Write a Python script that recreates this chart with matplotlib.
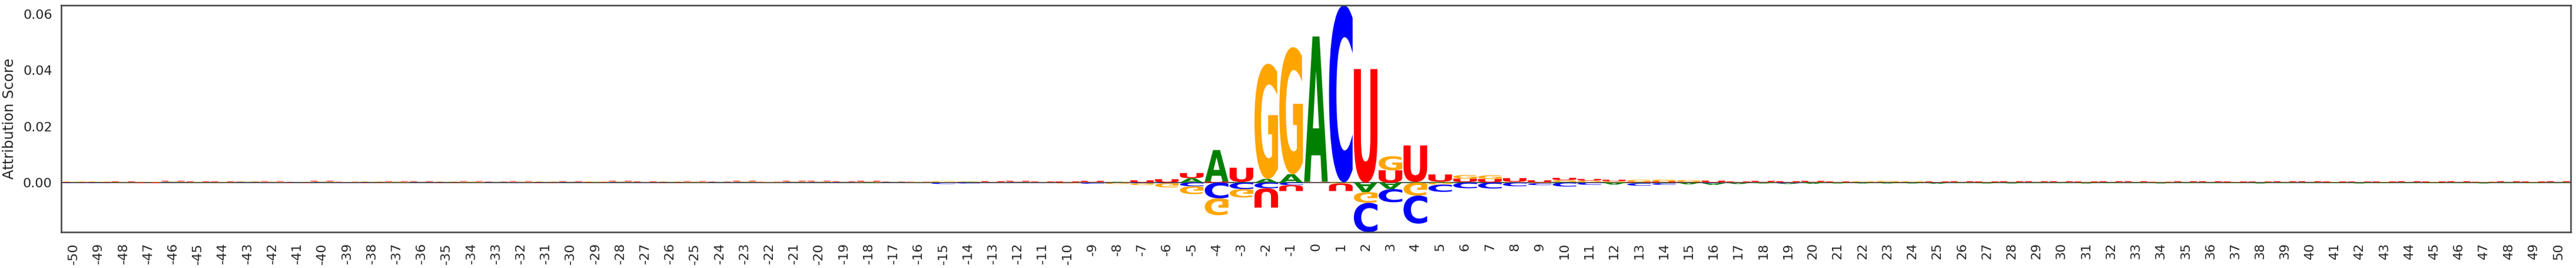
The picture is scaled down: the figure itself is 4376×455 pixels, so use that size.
"""Sequence logo of per-position attribution scores (positions -50..50)."""
import numpy as np
import matplotlib
matplotlib.use("Agg")
import matplotlib.pyplot as plt
from matplotlib.font_manager import FontProperties
from matplotlib.patches import PathPatch
from matplotlib.textpath import TextPath
from matplotlib.transforms import Affine2D

positions = list(range(-50, 51))

# attribution per nucleotide, one value per position (-50 .. 50)
score_a = [
    0.0001, 0.0001, 0.0001, 0.0000, 0.0001, 0.0001, 0.0001, 0.0001, 0.0001, 0.0001,
    0.0001, 0.0001, 0.0001, 0.0001, 0.0001, 0.0001, 0.0001, 0.0001, 0.0001, 0.0001,
    0.0001, 0.0001, 0.0001, 0.0001, 0.0001, 0.0001, 0.0001, 0.0001, 0.0001, 0.0001,
    0.0001, 0.0001, -0.0002, 0.0001, 0.0001, 0.0001, 0.0002, 0.0001, 0.0001, 0.0001,
    0.0001, 0.0001, 0.0002, 0.0001, 0.0001, 0.0016, 0.0112, 0.0002, 0.0013, 0.0030,
    0.0517, 0.0001, -0.0034, -0.0023, 0.0002, 0.0003, 0.0002, 0.0001, 0.0001, 0.0001,
    0.0002, 0.0001, -0.0007, -0.0002, -0.0002, -0.0006, -0.0006, -0.0004, -0.0003, -0.0003,
    -0.0004, -0.0003, -0.0003, -0.0003, -0.0003, -0.0003, -0.0002, -0.0003, -0.0003, -0.0002,
    -0.0002, -0.0003, -0.0002, -0.0002, -0.0003, -0.0002, -0.0002, -0.0002, -0.0003, -0.0002,
    -0.0002, -0.0002, -0.0003, -0.0002, -0.0002, -0.0002, -0.0002, -0.0003, -0.0002, -0.0002,
    -0.0002,
]
score_c = [
    -0.0001, -0.0001, 0.0000, 0.0001, 0.0001, 0.0000, 0.0000, 0.0001, -0.0001, 0.0001,
    0.0001, -0.0001, 0.0001, 0.0000, 0.0001, 0.0001, 0.0000, 0.0001, -0.0001, 0.0001,
    0.0001, 0.0000, 0.0001, -0.0001, 0.0001, 0.0000, 0.0001, 0.0001, 0.0000, 0.0001,
    0.0001, 0.0001, 0.0001, 0.0001, 0.0000, -0.0005, -0.0003, -0.0001, 0.0001, -0.0001,
    -0.0001, -0.0004, -0.0001, -0.0002, -0.0002, -0.0013, -0.0056, -0.0023, -0.0020, -0.0009,
    0.0001, 0.0630, -0.0104, -0.0047, -0.0100, -0.0026, -0.0020, -0.0021, -0.0013, -0.0007,
    -0.0014, -0.0008, 0.0001, -0.0009, -0.0006, 0.0001, -0.0002, -0.0001, 0.0001, -0.0002,
    0.0001, 0.0000, 0.0001, 0.0001, 0.0001, -0.0001, 0.0001, 0.0000, 0.0001, 0.0001,
    0.0001, 0.0000, 0.0001, 0.0001, 0.0000, 0.0001, 0.0001, 0.0000, 0.0001, 0.0001,
    0.0001, 0.0000, 0.0001, 0.0000, 0.0001, 0.0000, 0.0001, 0.0000, 0.0001, 0.0000,
    0.0001,
]
score_g = [
    0.0002, 0.0002, 0.0001, 0.0002, 0.0002, 0.0001, 0.0001, 0.0002, 0.0002, 0.0001,
    0.0002, 0.0001, 0.0002, 0.0002, 0.0001, 0.0002, 0.0002, 0.0001, 0.0002, 0.0002,
    0.0001, 0.0002, 0.0002, 0.0001, 0.0002, 0.0002, 0.0001, 0.0002, 0.0001, 0.0002,
    0.0002, 0.0001, 0.0002, 0.0001, 0.0001, 0.0004, 0.0002, 0.0001, 0.0001, 0.0001,
    -0.0002, 0.0001, -0.0004, -0.0007, -0.0015, -0.0028, -0.0060, -0.0030, 0.0410, 0.0452,
    0.0001, -0.0003, -0.0038, 0.0050, -0.0046, -0.0007, 0.0013, 0.0013, 0.0002, -0.0002,
    0.0007, 0.0006, 0.0004, 0.0007, 0.0007, 0.0006, 0.0001, 0.0001, 0.0001, 0.0001,
    0.0001, 0.0001, 0.0003, 0.0004, 0.0003, 0.0001, 0.0001, 0.0001, 0.0001, 0.0001,
    0.0001, 0.0001, 0.0001, 0.0001, 0.0001, 0.0001, 0.0001, 0.0001, 0.0001, 0.0001,
    0.0001, 0.0001, 0.0001, 0.0001, 0.0001, 0.0001, 0.0001, 0.0001, 0.0001, 0.0001,
    0.0001,
]
score_u = [
    0.0001, 0.0001, 0.0002, -0.0002, 0.0002, 0.0002, 0.0002, 0.0001, 0.0002, -0.0001,
    0.0002, 0.0001, -0.0001, 0.0002, 0.0002, -0.0001, 0.0002, 0.0001, 0.0002, -0.0001,
    0.0002, 0.0001, 0.0002, 0.0002, -0.0001, 0.0002, 0.0001, 0.0002, 0.0001, 0.0002,
    0.0002, 0.0002, 0.0003, 0.0001, 0.0001, 0.0000, 0.0001, 0.0003, 0.0003, 0.0002,
    0.0003, 0.0004, 0.0001, 0.0007, 0.0011, 0.0018, 0.0004, 0.0051, -0.0069, -0.0021,
    0.0001, -0.0027, 0.0404, 0.0044, 0.0130, 0.0026, 0.0012, 0.0012, 0.0013, 0.0007,
    0.0008, 0.0006, 0.0005, 0.0003, 0.0004, 0.0002, 0.0006, 0.0003, 0.0004, 0.0004,
    0.0004, 0.0003, 0.0001, 0.0001, 0.0001, 0.0003, 0.0003, 0.0003, 0.0003, 0.0003,
    0.0003, 0.0003, 0.0003, 0.0003, 0.0002, 0.0003, 0.0003, 0.0003, 0.0002, 0.0003,
    0.0003, 0.0003, 0.0002, 0.0003, 0.0003, 0.0003, 0.0003, 0.0002, 0.0003, 0.0003,
    0.0003,
]

letters = ["A", "C", "G", "U"]
letter_colors = {"A": "#008000", "C": "#0000ff", "G": "#ffa500", "U": "#ff0000"}

GLYPH_FONT = FontProperties(family="DejaVu Sans", weight="bold")


def glyph(char, x, floor, ceiling, width, color, flip):
    # fill the box [x-w/2, x+w/2] x [floor, ceiling] with the letter outline
    path = TextPath((0, 0), char, size=1, prop=GLYPH_FONT)
    if flip:
        path = Affine2D().scale(1, -1).transform_path(path)
    ext = path.get_extents()
    t = (Affine2D()
         .translate(-ext.x0, -ext.y0)
         .scale(width / ext.width, (ceiling - floor) / ext.height)
         .translate(x - width / 2, floor))
    return PathPatch(t.transform_path(path), facecolor=color, edgecolor="none", linewidth=0)


def main():
    plt.rcParams["font.family"] = ["DejaVu Sans"]
    text_color = "#262626"

    scores = np.array([score_a, score_c, score_g, score_u]).T

    fig = plt.figure(figsize=(43.76, 4.55), dpi=100)
    ax = fig.add_axes([104 / 4376, 61 / 455, 4263 / 4376, 385 / 455])

    # stack: big on top, negatives flipped below zero
    top_max, bot_min = 0.0, 0.0
    for pos, row in zip(positions, scores):
        order = np.argsort(np.abs(row))
        up, down = 0.0, 0.0
        for i in order:
            v = row[i]
            if v > 0:
                ax.add_patch(glyph(letters[i], pos, up, up + v, 0.95, letter_colors[letters[i]], False))
                up += v
            elif v < 0:
                ax.add_patch(glyph(letters[i], pos, down + v, down, 0.95, letter_colors[letters[i]], True))
                down += v
        top_max = max(top_max, up)
        bot_min = min(bot_min, down)

    ax.axhline(0, color="#333333", linewidth=1.2, zorder=-1)

    ax.set_xlim(positions[0] - 0.5, positions[-1] + 0.5)
    ax.set_ylim(bot_min, top_max)

    ax.set_xticks(positions)
    ax.set_xticklabels([str(p) for p in positions], rotation=90)
    ax.set_yticks([0.0, 0.02, 0.04, 0.06])
    ax.set_yticklabels(["0.00", "0.02", "0.04", "0.06"])
    ax.tick_params(axis="x", length=0, pad=13, labelsize=16, labelcolor=text_color)
    ax.tick_params(axis="y", length=0, pad=11, labelsize=16, labelcolor=text_color)
    ax.set_ylabel("Attribution Score", fontsize=17.5, color=text_color, labelpad=8)

    for spine in ax.spines.values():
        spine.set_color("#404040")
        spine.set_linewidth(1.8)

    fig.savefig("out.png", dpi=100)
    plt.close(fig)


if __name__ == "__main__":
    main()
